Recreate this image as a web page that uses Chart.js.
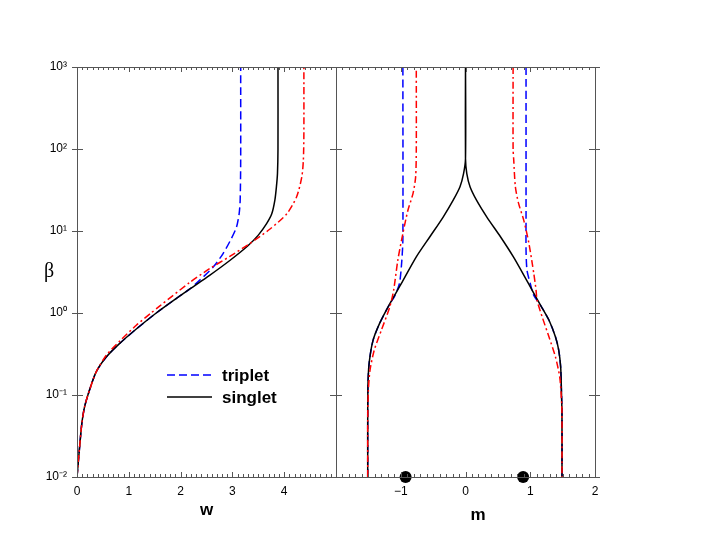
<!DOCTYPE html>
<html><head><meta charset="utf-8">
<script src="https://cdn.jsdelivr.net/npm/chart.js@4.4.1/dist/chart.umd.min.js"></script>
<style>
html,body{margin:0;padding:0;background:#fff;}
#wrap{position:relative;width:705px;height:545px;overflow:hidden;background:#fff;}
canvas{position:absolute;top:0;}
</style>
</head><body>
<div id="wrap">
<canvas id="c1" width="340" height="545" style="left:0px"></canvas>
<canvas id="c2" width="405" height="545" style="left:300px"></canvas>
</div>
<script>
// ---------- tick labels ----------
const yTickValues = [0.01, 0.1, 1, 10, 100, 1000];
const yTickLabels = ['10\u207B\u00B2', '10\u207B\u00B9', '10\u2070', '10\u00B9', '10\u00B2', '10\u00B3'];
const wTickValues = [0, 1, 2, 3, 4];
const wTickLabels = ['0', '1', '2', '3', '4'];
const mTickValues = [-1, 0, 1, 2];
const mTickLabels = ['\u22121', '0', '1', '2'];
const legendLabels = ['triplet', 'singlet'];

// ---------- left panel: w vs beta ----------
const wSinglet    = [0, 0.05, 0.093, 0.145, 0.24, 0.37, 0.565, 0.82, 1.145, 1.53, 1.92, 2.18, 2.56, 2.95, 3.30, 3.50, 3.66, 3.76, 3.82, 3.85, 3.87, 3.88, 3.88];
const betaSinglet = [0.01, 0.0231, 0.0447, 0.0711, 0.114, 0.191, 0.290, 0.423, 0.638, 1.0, 1.51, 1.97, 2.88, 4.37, 6.61, 8.91, 12.3, 16.2, 23.8, 34.7, 50.1, 100, 1000];

const wTriplet    = [0, 0.05, 0.093, 0.145, 0.24, 0.37, 0.565, 0.82, 1.145, 1.53, 1.92, 2.18, 2.35, 2.63, 2.82, 2.98, 3.08, 3.13, 3.15, 3.16, 3.16];
const betaTriplet = [0.01, 0.0231, 0.0447, 0.0711, 0.114, 0.191, 0.290, 0.423, 0.638, 1.0, 1.51, 1.97, 2.45, 3.63, 5.31, 8.09, 11.2, 16.2, 23.8, 73, 1000];

const wThird    = [0, 0.05, 0.093, 0.145, 0.24, 0.37, 0.565, 0.82, 1.145, 1.43, 1.6, 2.18, 2.56, 2.95, 3.33, 3.72, 4.05, 4.24, 4.34, 4.37, 4.38, 4.38];
const betaThird = [0.01, 0.0231, 0.0447, 0.0711, 0.114, 0.191, 0.305, 0.452, 0.708, 1.0, 1.22, 2.37, 3.47, 4.9, 7.0, 10.5, 16.2, 26.1, 45.7, 73.3, 158, 1000];

// ---------- right panel: m vs beta ----------
const mSinglet     = [-1.51, -1.51, -1.505, -1.485, -1.43, -1.33, -1.17, -0.99, -0.76, -0.55, -0.345, -0.19, -0.085, -0.03, 0, 0, 0, 0.02, 0.07, 0.17, 0.33, 0.54, 0.74, 0.93, 1.03, 1.16, 1.29, 1.39, 1.44, 1.47, 1.48, 1.49, 1.49];
const betaSingletM = [0.01, 0.0631, 0.148, 0.257, 0.457, 0.736, 1.29, 2.29, 4.83, 8.51, 14.8, 23.8, 34.7, 50.1, 75.9, 1000, 75.9, 50.1, 34.7, 23.8, 14.8, 8.51, 4.83, 2.63, 1.89, 1.24, 0.815, 0.509, 0.351, 0.219, 0.125, 0.0589, 0.01];

const mTripletL    = [-1.51, -1.51, -1.505, -1.485, -1.43, -1.33, -1.17, -1.10, -1.02, -0.983, -0.967, -0.967];
const betaTripletL = [0.01, 0.0631, 0.148, 0.257, 0.457, 0.736, 1.29, 1.57, 2.29, 4.42, 8.0, 1000];
const mTripletR    = [0.935, 0.935, 0.935, 0.95, 1.0, 1.055, 1.16, 1.29, 1.39, 1.44, 1.47, 1.48, 1.49, 1.49];
const betaTripletR = [1000, 15, 5.83, 3.31, 2.29, 1.64, 1.24, 0.815, 0.509, 0.351, 0.219, 0.125, 0.0589, 0.01];

const mThirdL    = [-1.51, -1.51, -1.50, -1.475, -1.41, -1.30, -1.17, -1.11, -1.045, -0.967, -0.89, -0.81, -0.77, -0.76, -0.76];
const betaThirdL = [0.01, 0.05, 0.114, 0.2, 0.351, 0.615, 1.18, 1.89, 4.42, 9.33, 17.8, 28.8, 45.7, 100, 1000];
const mThirdR    = [0.735, 0.735, 0.745, 0.77, 0.82, 0.9, 0.98, 1.055, 1.09, 1.105, 1.185, 1.29, 1.39, 1.455, 1.48, 1.49, 1.49];
const betaThirdR = [1000, 100, 73.3, 34.7, 21.7, 13.5, 7.03, 3.02, 1.89, 1.43, 0.893, 0.509, 0.290, 0.166, 0.0933, 0.0589, 0.01];

const dotM    = [-0.925, 0.89];
const dotBeta = [0.01, 0.01];

// ---------- helpers ----------
const zip = (xs, ys) => xs.map((v, i) => ({x: v, y: ys[i]}));
const BLUE = '#0000ff', RED = '#ff0000', BLACK = '#000000';
const FONT = "'Liberation Sans', Arial, Helvetica, sans-serif";
const DASH_BLUE = [8, 4];
const DASH_RED = [7, 3, 2, 3];

function lineDS(label, data, color, dash) {
  return {label, data, borderColor: color, backgroundColor: color, borderWidth: 1.5,
    borderDash: dash || [], pointRadius: 0, showLine: true, tension: 0.25, fill: false};
}

const framePlugin = {
  id: 'frame',
  afterDatasetsDraw(chart) {
    const {ctx, chartArea: a, scales: {x, y}} = chart;
    ctx.save();
    ctx.strokeStyle = '#555';
    ctx.lineWidth = 1;
    ctx.setLineDash([]);
    ctx.strokeRect(Math.round(a.left) + 0.5, Math.round(a.top) + 0.5, Math.round(a.right - a.left), Math.round(a.bottom - a.top));
    const seg = (x1, y1, x2, y2) => { ctx.beginPath(); ctx.moveTo(x1, y1); ctx.lineTo(x2, y2); ctx.stroke(); };
    const i0 = Math.round(x.min * 10), i1 = Math.round(x.max * 10);
    for (let i = i0; i <= i1; i++) {
      const px = Math.round(x.getPixelForValue(i / 10)) + 0.5;
      const len = (i % 10 === 0) ? 5 : 3;
      seg(px, a.bottom, px, a.bottom - len);
      seg(px, a.top, px, a.top + len);
    }
    yTickValues.forEach(v => {
      const py = Math.round(y.getPixelForValue(v)) + 0.5;
      seg(a.left - 5, py, a.left + 6, py);
      seg(a.right - 6, py, a.right + 5, py);
    });
    ctx.restore();
  }
};

const decorLeft = {
  id: 'decorLeft',
  afterDraw(chart) {
    const {ctx} = chart;
    ctx.save();
    ctx.fillStyle = '#000';
    ctx.font = "20px 'Liberation Serif', 'DejaVu Serif', serif";
    ctx.textAlign = 'center';
    ctx.textBaseline = 'middle';
    ctx.fillText('\u03B2', 49, 272);
    const items = [{c: BLUE, d: DASH_BLUE, y: 375}, {c: BLACK, d: [], y: 397}];
    items.forEach((it, i) => {
      ctx.strokeStyle = it.c; ctx.lineWidth = 1.5; ctx.setLineDash(it.d);
      ctx.beginPath(); ctx.moveTo(167, it.y); ctx.lineTo(212, it.y); ctx.stroke();
      ctx.setLineDash([]);
      ctx.fillStyle = '#000';
      ctx.font = "bold 17px " + FONT;
      ctx.textAlign = 'left'; ctx.textBaseline = 'alphabetic';
      ctx.fillText(legendLabels[i], 222, it.y + 6);
    });
    ctx.restore();
  }
};

const decorRight = {
  id: 'decorRight',
  afterDraw(chart) {
    const {ctx} = chart;
    ctx.save();
    ctx.fillStyle = '#000';
    ctx.font = "bold 17px " + FONT;
    ctx.textAlign = 'center'; ctx.textBaseline = 'alphabetic';
    ctx.fillText('m', 478 - 300, 520);
    ctx.restore();
  }
};

const tickFont = {family: FONT, size: 12};

function yScale(show) {
  return {
    type: 'logarithmic', min: 0.01, max: 1000, display: show,
    grid: {display: false, drawTicks: false}, border: {display: false},
    afterBuildTicks: s => { s.ticks = yTickValues.map(v => ({value: v})); },
    afterFit: s => { if (show) s.width = 77; },
    ticks: {font: tickFont, color: '#000', padding: 10, autoSkip: false,
      callback: (v) => { const i = yTickValues.indexOf(v); return i >= 0 ? yTickLabels[i] : ''; }}
  };
}

new Chart(document.getElementById('c1'), {
  type: 'scatter',
  data: {datasets: [
    lineDS('third', zip(wThird, betaThird), RED, DASH_RED),
    lineDS('singlet', zip(wSinglet, betaSinglet), BLACK),
    lineDS('triplet', zip(wTriplet, betaTriplet), BLUE, DASH_BLUE),
  ]},
  options: {
    responsive: false, animation: false, devicePixelRatio: 1,
    layout: {padding: {top: 67, right: 4, left: 0, bottom: 0}},
    plugins: {legend: {display: false}, tooltip: {enabled: false}},
    scales: {
      x: {
        type: 'linear', min: 0, max: 5, position: 'bottom',
        grid: {display: false, drawTicks: false}, border: {display: false},
        afterBuildTicks: s => { s.ticks = wTickValues.map(v => ({value: v})); },
        afterFit: s => { s.height = 68; },
        ticks: {font: tickFont, color: '#000', padding: 7, maxRotation: 0, autoSkip: false,
          callback: (v) => { const i = wTickValues.indexOf(v); return i >= 0 ? wTickLabels[i] : ''; }},
        title: {display: true, text: 'w', color: '#000', font: {family: FONT, size: 17, weight: 'bold'}, padding: {top: 0, bottom: 24}}
      },
      y: yScale(true)
    }
  },
  plugins: [framePlugin, decorLeft]
});

new Chart(document.getElementById('c2'), {
  type: 'scatter',
  data: {datasets: [
    {label: 'points', data: zip(dotM, dotBeta), showLine: false, pointRadius: 6, pointHoverRadius: 6,
      backgroundColor: '#000', borderColor: '#000', borderWidth: 0, clip: false},
    lineDS('third L', zip(mThirdL, betaThirdL), RED, DASH_RED),
    lineDS('third R', zip(mThirdR, betaThirdR), RED, DASH_RED),
    lineDS('singlet', zip(mSinglet, betaSingletM), BLACK),
    lineDS('triplet L', zip(mTripletL, betaTripletL), BLUE, DASH_BLUE),
    lineDS('triplet R', zip(mTripletR, betaTripletR), BLUE, DASH_BLUE)
  ]},
  options: {
    responsive: false, animation: false, devicePixelRatio: 1,
    layout: {padding: {top: 67, right: 110, left: 36, bottom: 0}},
    plugins: {legend: {display: false}, tooltip: {enabled: false}},
    scales: {
      x: {
        type: 'linear', min: -2, max: 2, position: 'bottom',
        grid: {display: false, drawTicks: false}, border: {display: false},
        afterBuildTicks: s => { s.ticks = mTickValues.map(v => ({value: v})); },
        afterFit: s => { s.height = 68; },
        ticks: {font: tickFont, color: '#000', padding: 7, maxRotation: 0, autoSkip: false,
          callback: (v) => { const i = mTickValues.indexOf(v); return i >= 0 ? mTickLabels[i] : ''; }}
      },
      y: yScale(false)
    }
  },
  plugins: [framePlugin, decorRight]
});
</script>
</body></html>
